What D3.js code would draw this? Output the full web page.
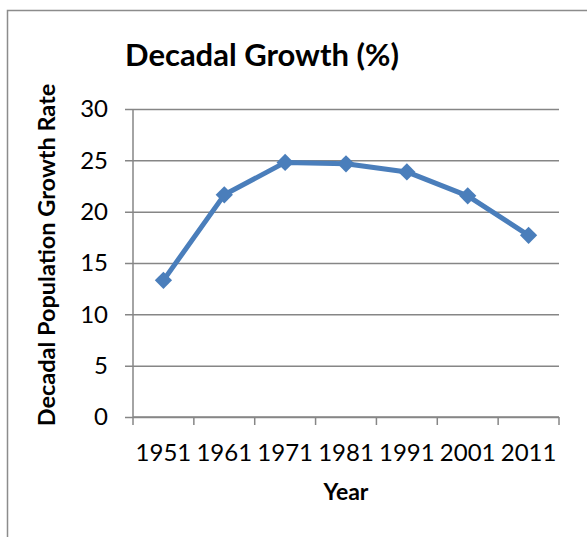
<!DOCTYPE html>
<html>
<head>
<meta charset="utf-8">
<script src="https://cdn.jsdelivr.net/npm/d3@7"></script>
<style>
  body { margin: 0; background: #fff; }
  svg { display: block; font-family: Lato, "Open Sans", sans-serif; }
</style>
</head>
<body>
<svg width="587" height="537"></svg>
<script>
  const years = ['1951', '1961', '1971', '1981', '1991', '2001', '2011'];
  const growth = [13.31, 21.64, 24.80, 24.66, 23.87, 21.54, 17.70];
  const yTicks = [0, 5, 10, 15, 20, 25, 30];

  const svg = d3.select('svg');
  const data = years.map((y, i) => ({ year: y, value: growth[i] }));

  // chart frame (only left and top edges visible)
  svg.append('path')
    .attr('d', 'M7.5,537 V10.5 H587')
    .attr('fill', 'none')
    .attr('stroke', '#8c8c8c')
    .attr('stroke-width', 1.5);

  const margin = { top: 109, left: 133 };
  const innerWidth = 559 - margin.left;
  const innerHeight = 417 - margin.top;

  const xScale = d3.scaleBand()
    .domain(years)
    .range([0, innerWidth]);

  const yScale = d3.scaleLinear()
    .domain([0, 30])
    .range([innerHeight, 0]);

  const g = svg.append('g')
    .attr('transform', `translate(${margin.left},${margin.top})`);

  // gridlines + y axis
  const yAxis = d3.axisLeft(yScale)
    .tickValues(yTicks)
    .tickSize(-innerWidth)
    .tickPadding(25);
  const yAxisG = g.append('g').call(yAxis);
  yAxisG.select('.domain').remove();
  yAxisG.selectAll('.tick line')
    .attr('x1', -8)
    .attr('stroke', '#868686')
    .attr('stroke-width', 1.5);
  yAxisG.selectAll('.tick text')
    .attr('fill', '#000')
    .attr('font-family', 'Lato, sans-serif')
    .attr('font-size', 24);

  g.append('line')
    .attr('x1', 0).attr('x2', 0)
    .attr('y1', 0).attr('y2', innerHeight)
    .attr('stroke', '#868686')
    .attr('stroke-width', 1.5);

  // x axis with ticks at category boundaries
  const xAxisG = g.append('g')
    .attr('transform', `translate(0,${innerHeight})`);
  xAxisG.append('line')
    .attr('x1', 0).attr('x2', innerWidth)
    .attr('stroke', '#868686')
    .attr('stroke-width', 1.5);
  const bounds = years.map(y => xScale(y)).concat([innerWidth]);
  xAxisG.selectAll('.xtick').data(bounds)
    .enter().append('line')
      .attr('class', 'xtick')
      .attr('x1', d => d).attr('x2', d => d)
      .attr('y1', 0).attr('y2', 8)
      .attr('stroke', '#868686')
      .attr('stroke-width', 1.5);
  xAxisG.selectAll('.xlabel').data(years)
    .enter().append('text')
      .attr('class', 'xlabel')
      .attr('x', d => xScale(d) + xScale.bandwidth() / 2)
      .attr('y', 44)
      .attr('text-anchor', 'middle')
      .attr('font-size', 24)
      .text(d => d);

  // line + diamond markers
  const line = d3.line()
    .x(d => xScale(d.year) + xScale.bandwidth() / 2)
    .y(d => yScale(d.value));

  g.append('path')
    .datum(data)
    .attr('d', line)
    .attr('fill', 'none')
    .attr('stroke', '#4a7ebb')
    .attr('stroke-width', 5)
    .attr('stroke-linejoin', 'round');

  g.selectAll('.marker').data(data)
    .enter().append('path')
      .attr('class', 'marker')
      .attr('d', d3.symbol().type(d3.symbolDiamond2).size(190))
      .attr('transform', d => `translate(${xScale(d.year) + xScale.bandwidth() / 2},${yScale(d.value)})`)
      .attr('fill', '#4a7ebb');

  // titles
  svg.append('text')
    .attr('x', 262).attr('y', 66)
    .attr('text-anchor', 'middle')
    .attr('font-weight', 'bold')
    .attr('font-size', 31)
    .text('Decadal Growth (%)');

  svg.append('text')
    .attr('transform', 'translate(55,255) rotate(-90)')
    .attr('text-anchor', 'middle')
    .attr('font-weight', 'bold')
    .attr('font-size', 23.5)
    .text('Decadal Population Growth Rate');

  svg.append('text')
    .attr('x', 346).attr('y', 500)
    .attr('text-anchor', 'middle')
    .attr('font-weight', 'bold')
    .attr('font-size', 23)
    .text('Year');
</script>
</body>
</html>
